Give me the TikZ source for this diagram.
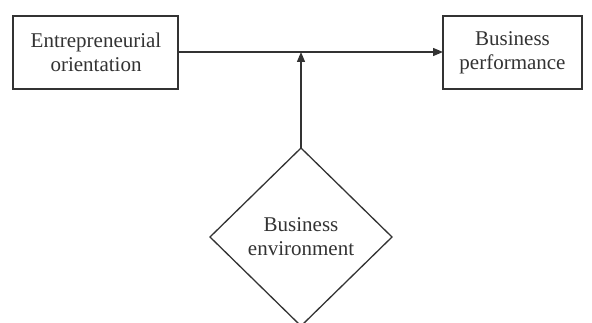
\documentclass[tikz,border=0pt]{standalone}
\usepackage{fontspec}
\setmainfont{Liberation Serif}
\usetikzlibrary{arrows.meta}
\definecolor{ink}{HTML}{333333}
\begin{document}
\begin{tikzpicture}[x=1pt,y=-1pt,
  line/.style={draw=ink,line width=1.3pt},
  lbl/.style={font=\fontsize{21}{24}\selectfont,text=ink,align=center},
  arr/.style={line,-{Triangle[length=10pt,width=8pt]}}]
\clip (0,0) rectangle (592,323);
\fill[white] (0,0) rectangle (592,323);
\draw[line] (13,16) rectangle (178,89);
\node[lbl] (eo) at (96,52) {Entrepreneurial\\orientation};
\coordinate (eoR) at (178,52);
\draw[line] (443,16) rectangle (582,89);
\node[lbl] (bp) at (512.5,53) {Business\\performance};
\coordinate (bpL) at (443,52);
\draw[line] (301,148) -- (392,237) -- (301,326) -- (210,237) -- cycle;
\node[lbl] (be) at (301,237) {Business\\environment};
\coordinate (beT) at (301,148);
\coordinate (mid) at (301,52);
\draw[arr] (eoR) -- (bpL);
\draw[arr] (beT) -- (mid);
\end{tikzpicture}
\end{document}
